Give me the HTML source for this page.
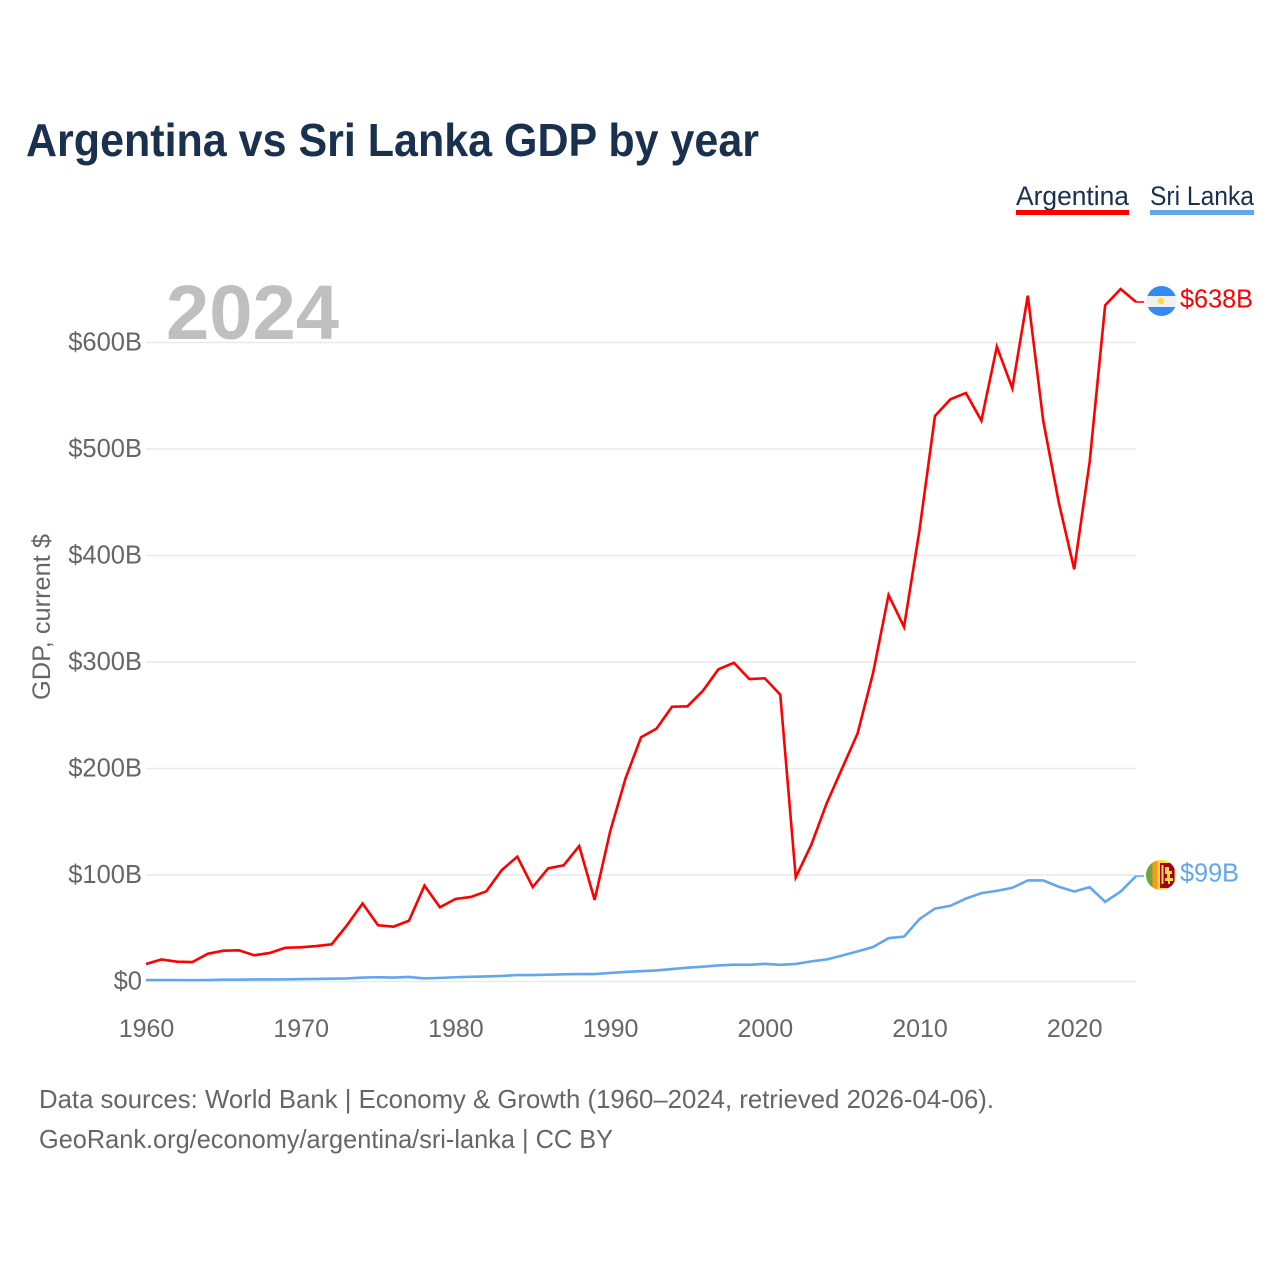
<!DOCTYPE html>
<html lang="en">
<head>
<meta charset="utf-8">
<title>Argentina vs Sri Lanka GDP by year</title>
<style>
html,body{margin:0;padding:0;background:#fff;width:1280px;height:1280px;overflow:hidden}
svg{display:block;font-family:"Liberation Sans",sans-serif}
</style>
</head>
<body>
<svg id="chart" xmlns="http://www.w3.org/2000/svg" width="1280" height="1280" viewBox="0 0 1280 1280">
  <defs>
    <clipPath id="clip-ar"><circle cx="1161.5" cy="301" r="15"/></clipPath>
    <clipPath id="clip-lk"><circle cx="1161" cy="875" r="15"/></clipPath>
  </defs>
  <rect width="1280" height="1280" fill="#fff"/>
  <text x="26" y="156" font-size="46" font-weight="700" fill="#19304f" textLength="733" lengthAdjust="spacingAndGlyphs">Argentina vs Sri Lanka GDP by year</text>

  <g>
    <text x="1016" y="205" font-size="27" fill="#19304f" textLength="113" lengthAdjust="spacingAndGlyphs">Argentina</text>
    <rect x="1016" y="210" width="113" height="5" fill="#ff0000"/>
  </g>
  <g>
    <text x="1150" y="205" font-size="27" fill="#19304f" textLength="104" lengthAdjust="spacingAndGlyphs">Sri Lanka</text>
    <rect x="1150" y="210" width="104" height="5" fill="#62a6ec"/>
  </g>

  <text x="166" y="339" font-size="77" font-weight="700" fill="#bfbfbf" textLength="173" lengthAdjust="spacingAndGlyphs">2024</text>
  <text transform="translate(50,700) rotate(-90)" font-size="25" fill="#666" textLength="166" lengthAdjust="spacingAndGlyphs">GDP, current $</text>

  <g id="grid"></g>
  <g id="ylabels"></g>
  <g id="xlabels"></g>
  <g id="series"></g>

  <g clip-path="url(#clip-ar)">
    <rect x="1146" y="285" width="31" height="11" fill="#338af3"/>
    <rect x="1146" y="296" width="31" height="11" fill="#f0f0f0"/>
    <rect x="1146" y="307" width="31" height="10" fill="#338af3"/>
    <circle cx="1161" cy="301" r="3.3" fill="#ffda44"/>
  </g>
  <g clip-path="url(#clip-lk)">
    <rect x="1146" y="860" width="30" height="30" fill="#ffda44"/>
    <rect x="1146" y="860" width="6.5" height="30" fill="#6da544"/>
    <rect x="1152.5" y="860" width="5" height="30" fill="#ff9811"/>
    <rect x="1160" y="863" width="14.5" height="25" fill="#a2001d"/>
    <path d="M1161.5 865h2v19h-2zM1165 867h4v4h3v3h-2v4h3v3h-3v3h-2v-3h-3v-3h2v-4h-2z" fill="#ffda44"/>
  </g>

  <text id="label-ar" x="1180" y="307.5" font-size="26" fill="#ff0000" textLength="73" lengthAdjust="spacingAndGlyphs">$638B</text>
  <text id="label-lk" x="1180" y="881.5" font-size="26" fill="#62a6ec" textLength="59" lengthAdjust="spacingAndGlyphs">$99B</text>

  <text x="39" y="1108" font-size="26" fill="#666" textLength="955" lengthAdjust="spacingAndGlyphs">Data sources: World Bank | Economy &amp; Growth (1960–2024, retrieved 2026-04-06).</text>
  <text x="39" y="1148" font-size="26" fill="#666" textLength="574" lengthAdjust="spacingAndGlyphs">GeoRank.org/economy/argentina/sri-lanka | CC BY</text>
</svg>
<script>
var startYear = 1960;
var yTickValues = [0, 100, 200, 300, 400, 500, 600];
var yTickLabels = ["$0", "$100B", "$200B", "$300B", "$400B", "$500B", "$600B"];
var xTickYears = [1960, 1970, 1980, 1990, 2000, 2010, 2020];
var xTickLabels = ["1960", "1970", "1980", "1990", "2000", "2010", "2020"];
var argentinaGdp = [16.4,20.7,18.6,18.3,26.1,28.9,29.3,24.6,26.8,31.7,32.1,33.3,34.9,53,73.2,52.8,51.5,57.1,90,69.7,77.5,79.4,84.7,104.7,117.2,88.7,106.3,109.1,127.2,76.6,140.7,190.8,229.3,237.4,258,258.4,273,293.1,299.3,284,284.7,269.3,97.8,128.2,167.3,200.2,233,289.7,362.9,332.9,423.9,531,546.7,552.6,526.6,596.1,557,644,526.3,450,387,488,634.9,650.2,638];
var sriLankaGdp = [1.4,1.4,1.4,1.3,1.4,1.7,1.7,1.9,1.9,2,2.3,2.4,2.6,2.9,3.7,4,3.7,4.3,2.9,3.4,4,4.4,4.8,5.2,6.1,6,6.4,6.7,7,7,8,9,9.7,10.4,11.7,13,13.9,15.1,15.8,15.7,16.6,15.7,16.5,18.9,20.7,24.4,28.3,32.4,40.7,42.1,58.6,68.5,71.1,77.9,83,85.1,88,94.9,94.9,89,84.5,88.6,74.8,84.4,99];

var NS = "http://www.w3.org/2000/svg";
function xScale(year) { return 146 + (year - 1960) * 15.47; }
function yScale(value) { return 981.5 - value * 1.065; }

var grid = document.getElementById("grid");
var ylabels = document.getElementById("ylabels");
var xlabels = document.getElementById("xlabels");
var series = document.getElementById("series");

yTickValues.forEach(function (v, i) {
  var line = document.createElementNS(NS, "line");
  
  
  line.setAttribute("x1", 146);
  line.setAttribute("x2", 1136);
  line.setAttribute("y1", yScale(v));
  line.setAttribute("y2", yScale(v));
  line.setAttribute("stroke", "#e9e9e9");
  line.setAttribute("stroke-width", 1.5);
  grid.appendChild(line);

  var t = document.createElementNS(NS, "text");
  
  
  t.setAttribute("x", 142);
  t.setAttribute("y", yScale(v) + 8);
  t.setAttribute("text-anchor", "end");
  t.setAttribute("font-size", 25.5);
  t.setAttribute("fill", "#666");
  t.textContent = yTickLabels[i];
  ylabels.appendChild(t);
});

xTickYears.forEach(function (yr, i) {
  var t = document.createElementNS(NS, "text");
  
  
  t.setAttribute("x", xScale(yr) + 0.5);
  t.setAttribute("y", 1037);
  t.setAttribute("text-anchor", "middle");
  t.setAttribute("font-size", 25);
  t.setAttribute("fill", "#666");
  t.textContent = xTickLabels[i];
  xlabels.appendChild(t);
});

function pointsFor(values) {
  return values.map(function (v, i) {
    return xScale(startYear + i).toFixed(2) + "," + yScale(v).toFixed(2);
  }).join(" ");
}

var lineAr = document.createElementNS(NS, "polyline");


lineAr.setAttribute("points", pointsFor(argentinaGdp));
lineAr.setAttribute("fill", "none");
lineAr.setAttribute("stroke", "#ff0000");
lineAr.setAttribute("stroke-width", 2.6);
lineAr.setAttribute("stroke-linejoin", "miter");
series.appendChild(lineAr);

var lineLk = document.createElementNS(NS, "polyline");


lineLk.setAttribute("points", pointsFor(sriLankaGdp));
lineLk.setAttribute("fill", "none");
lineLk.setAttribute("stroke", "#62a6ec");
lineLk.setAttribute("stroke-width", 2.6);
series.appendChild(lineLk);

var lastAr = argentinaGdp[argentinaGdp.length - 1];
var lastLk = sriLankaGdp[sriLankaGdp.length - 1];
var lastX = xScale(startYear + argentinaGdp.length - 1);

var connAr = document.createElementNS(NS, "line");


connAr.setAttribute("x1", lastX);
connAr.setAttribute("x2", lastX + 8);
connAr.setAttribute("y1", yScale(lastAr));
connAr.setAttribute("y2", yScale(lastAr));
connAr.setAttribute("stroke", "#ff0000");
connAr.setAttribute("stroke-opacity", 0.8);
connAr.setAttribute("stroke-width", 2);
series.appendChild(connAr);

var connLk = document.createElementNS(NS, "line");


connLk.setAttribute("x1", lastX);
connLk.setAttribute("x2", lastX + 8);
connLk.setAttribute("y1", yScale(lastLk));
connLk.setAttribute("y2", yScale(lastLk));
connLk.setAttribute("stroke", "#62a6ec");
connLk.setAttribute("stroke-opacity", 0.8);
connLk.setAttribute("stroke-width", 2);
series.appendChild(connLk);
</script>
</body>
</html>
